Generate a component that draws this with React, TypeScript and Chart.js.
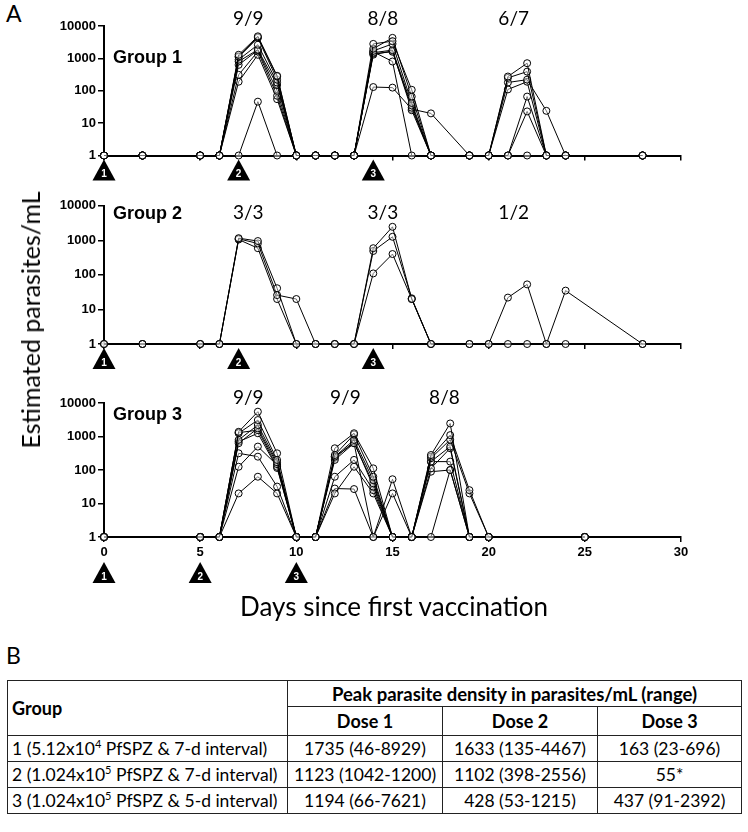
import React, { useEffect, useRef } from "react";
import { Chart, registerables } from "chart.js";
Chart.register(...registerables);

const N = null;
const yTickValues = [1, 10, 100, 1000, 10000];

// Group 1 & 2 sampling days
const g1Days = [0, 2, 5, 6, 7, 8, 9, 10, 11, 12, 13, 14, 15, 16, 17, 19, 20, 21, 22, 23, 24, 28];
const g1s1 = [1, 1, 1, 1, 1290, 4800, 290, 1, 1, 1, 1, 2800, 3400, 107, 1, 1, 1, 275, 710, 1, 1, 1];
const g1s2 = [1, 1, 1, 1, 1150, 4500, 275, 1, 1, 1, 1, 2000, 4300, 66, 1, 1, 1, 250, 390, 1, 1, 1];
const g1s3 = [1, 1, 1, 1, 1100, 4300, 220, 1, 1, 1, 1, 1700, 2800, 42, 1, 1, 1, 180, 220, 24, 1, 1];
const g1s4 = [1, 1, 1, 1, 910, 2640, 180, 1, 1, 1, 1, 1500, 1800, 35, 1, 1, 1, 110, 190, 1, 1, 1];
const g1s5 = [1, 1, 1, 1, 800, 1860, 150, 1, 1, 1, 1, 1400, 1600, 30, 1, 1, 1, 1, 66, 1, 1, 1];
const g1s6 = [1, 1, 1, 1, 630, 1800, 100, 1, 1, 1, 1, 1300, 1700, 25, 1, 1, 1, 1, 23, 1, 1, 1];
const g1s7 = [1, 1, 1, 1, 310, 1630, 70, 1, 1, 1, 1, 1600, 800, 1, 1, 1, 1, 1, 1, 1, 1, 1];
const g1s8 = [1, 1, 1, 1, 190, 1290, 55, 1, 1, 1, 1, 130, 125, 27, 20, 1, N, N, N, N, N, N];
const g1s9 = [1, 1, 1, 1, 1, 46, 1, 1, 1, 1, 1, N, N, N, N, N, N, N, N, N, N, N];
const group1 = [g1s1, g1s2, g1s3, g1s4, g1s5, g1s6, g1s7, g1s8, g1s9];

const g2Days = [0, 2, 5, 6, 7, 8, 9, 10, 11, 12, 13, 14, 15, 16, 17, 19, 20, 21, 22, 23, 24, 28];
const g2s1 = [1, 1, 1, 1, 1150, 950, 41, 1, 1, 1, 1, 590, 2450, 20, 1, 1, 1, 22, 53, 1, 35, 1];
const g2s2 = [1, 1, 1, 1, 1100, 810, 26, 20, 1, 1, 1, 490, 1260, 21, 1, 1, 1, 1, 1, 1, 1, 1];
const g2s3 = [1, 1, 1, 1, 1050, 590, 20, 1, 1, 1, 1, 110, 400, 20, 1, N, N, N, N, N, N, N];
const group2 = [g2s1, g2s2, g2s3];

const g3Days = [0, 5, 6, 7, 8, 9, 10, 11, 12, 13, 14, 15, 16, 17, 18, 19, 20, 25];
const g3s1 = [1, 1, 1, 1380, 5500, 315, 1, 1, 445, 1250, 112, 1, 1, 280, 2450, 1, 1, 1];
const g3s2 = [1, 1, 1, 1250, 3100, 200, 1, 1, 280, 1150, 63, 1, 1, 250, 1100, 25, 1, 1];
const g3s3 = [1, 1, 1, 790, 2200, 170, 1, 1, 250, 790, 50, 1, 1, 225, 800, 20, 1, 1];
const g3s4 = [1, 1, 1, 630, 1750, 150, 1, 1, 200, 630, 40, 1, 1, 178, 500, 1, 1, 1];
const g3s5 = [1, 1, 1, 1300, 1550, 125, 1, 1, 230, 700, 32, 1, 1, 112, 445, 1, 1, 1];
const g3s6 = [1, 1, 1, 700, 1250, 115, 1, 1, 63, 200, 25, 1, 1, 178, 178, 1, 1, 1];
const g3s7 = [1, 1, 1, 315, 250, 32, 1, 1, 20, 125, 20, 1, 1, 89, 100, 1, 1, 1];
const g3s8 = [1, 1, 1, 125, 500, 140, 1, 1, 28, 27, 1, 53, 1, 1, 100, 1, 1, 1];
const g3s9 = [1, 1, 1, 20, 63, 20, 1, 1, 250, 630, 1, 20, 1, N, N, N, N, N];
const group3 = [g3s1, g3s2, g3s3, g3s4, g3s5, g3s6, g3s7, g3s8, g3s9];

const g1Counts = ["9/9", "8/8", "6/7"];
const g2Counts = ["3/3", "3/3", "1/2"];
const g3Counts = ["9/9", "9/9", "8/8"];
const g12CountDays = [7.5, 14.5, 21.3];
const g3CountDays = [7.5, 12.55, 17.7];
const g12VaccDays = [0, 7, 14];
const g3VaccDays = [0, 5, 10];
const vaccLabels = ["1", "2", "3"];

const tableHeader = ["Dose 1", "Dose 2", "Dose 3"];
const tableGroups = [
  ["1 (5.12x10", "4", " PfSPZ & 7-d interval)"],
  ["2 (1.024x10", "5", " PfSPZ & 7-d interval)"],
  ["3 (1.024x10", "5", " PfSPZ & 5-d interval)"],
];
const tableValues = [
  ["1735 (46-8929)", "1633 (135-4467)", "163 (23-696)"],
  ["1123 (1042-1200)", "1102 (398-2556)", "55*"],
  ["1194 (66-7621)", "428 (53-1215)", "437 (91-2392)"],
];

const annotPlugin = {
  id: "annot",
  afterDraw(chart: any, _args: any, opts: any) {
    const { ctx, chartArea } = chart;
    const xs = chart.scales.x;
    ctx.save();
    ctx.fillStyle = "#000";
    ctx.font = "19px Lato";
    ctx.textAlign = "center";
    ctx.textBaseline = "middle";
    opts.counts.forEach((t: string, i: number) => {
      ctx.fillText(t, xs.getPixelForValue(opts.countDays[i]), chartArea.top + opts.countDy);
    });
    ctx.font = 'bold 18px "Liberation Sans"';
    ctx.textAlign = "left";
    ctx.textBaseline = "alphabetic";
    ctx.fillText(opts.group, chartArea.left + 9, chartArea.top + opts.groupDy);
    opts.vacc.forEach((d: number, i: number) => {
      const px = xs.getPixelForValue(d);
      const top = chartArea.bottom + opts.triDy;
      ctx.beginPath();
      ctx.moveTo(px, top);
      ctx.lineTo(px + 11.5, top + 21);
      ctx.lineTo(px - 11.5, top + 21);
      ctx.closePath();
      ctx.fillStyle = "#000";
      ctx.fill();
      ctx.fillStyle = "#fff";
      ctx.font = "bold 10px 'Liberation Sans'";
      ctx.textAlign = "center";
      ctx.textBaseline = "middle";
      ctx.fillText(vaccLabels[i], px, top + 15);
    });
    ctx.restore();
  },
};

function makeConfig(days: number[], series: (number | null)[][], p: any) {
  return {
    type: "line",
    data: {
      datasets: series.map((s) => ({
        data: days.map((d, i) => ({ x: d, y: s[i] })).filter((pt) => pt.y !== null),
        borderColor: "#000",
        borderWidth: 1,
        pointRadius: 3.5,
        pointBorderWidth: 1,
        pointBorderColor: "#000",
        pointBackgroundColor: "rgba(255,255,255,0.45)",
        tension: 0,
        clip: false,
      })),
    },
    options: {
      animation: false,
      responsive: false,
      maintainAspectRatio: false,
      layout: { padding: { top: p.padTop, bottom: p.padBottom, left: 0, right: 67 } },
      plugins: {
        legend: { display: false },
        tooltip: { enabled: false },
        annot: p.annot,
      },
      scales: {
        x: {
          type: "linear",
          min: 0,
          max: 30,
          ticks: {
            stepSize: 5,
            display: p.showX,
            color: "#000",
            padding: 3,
            font: { family: "Liberation Sans", size: 13, weight: "bold" },
          },
          grid: { drawOnChartArea: false, drawTicks: true, tickLength: 5, color: "#000", lineWidth: 1.5 },
          border: { color: "#000", width: 2 },
          afterFit: (a: any) => {
            a.height = p.xHeight;
          },
        },
        y: {
          type: "logarithmic",
          min: 1,
          max: 10000,
          afterBuildTicks: (a: any) => {
            a.ticks = yTickValues.map((v) => ({ value: v }));
          },
          ticks: {
            color: "#000",
            padding: 2,
            callback: (v: any) => String(v),
            font: { family: "Liberation Sans", size: 13, weight: "bold" },
          },
          grid: { drawOnChartArea: false, drawTicks: true, tickLength: 6, color: "#000", lineWidth: 1.5 },
          border: { color: "#000", width: 2 },
          afterFit: (a: any) => {
            a.width = 104;
          },
        },
      },
    },
    plugins: [annotPlugin],
  };
}

function Panel(props: { top: number; height: number; cfg: any }) {
  const ref = useRef<HTMLCanvasElement>(null);
  useEffect(() => {
    const c = new Chart(ref.current as HTMLCanvasElement, props.cfg);
    return () => c.destroy();
  }, []);
  return (
    <canvas
      ref={ref}
      width={748}
      height={props.height}
      style={{ position: "absolute", left: 0, top: props.top, width: 748, height: props.height }}
    />
  );
}

const cfg1 = makeConfig(g1Days, group1, {
  padTop: 26,
  padBottom: 28.5,
  xHeight: 6,
  showX: false,
  annot: { counts: g1Counts, countDays: g12CountDays, countDy: -7, group: "Group 1", groupDy: 37, vacc: g12VaccDays, triDy: 4 },
});
const cfg2 = makeConfig(g2Days, group2, {
  padTop: 15.7,
  padBottom: 20,
  xHeight: 6,
  showX: false,
  annot: { counts: g2Counts, countDays: g12CountDays, countDy: 7.3, group: "Group 2", groupDy: 13.5, vacc: g12VaccDays, triDy: 4 },
});
const cfg3 = makeConfig(g3Days, group3, {
  padTop: 33,
  padBottom: 39,
  xHeight: 24,
  showX: true,
  annot: { counts: g3Counts, countDays: g3CountDays, countDy: -5, group: "Group 3", groupDy: 17, vacc: g3VaccDays, triDy: 25 },
});

const cell: React.CSSProperties = { border: "1.5px solid #222", padding: "0 4px", whiteSpace: "nowrap", lineHeight: "20px" };

export default function App() {
  return (
    <div style={{ position: "absolute", left: 0, top: 0, width: 748, height: 832, background: "#fff", fontFamily: "Lato", color: "#000", overflow: "hidden" }}>
      <div style={{ position: "absolute", left: 6, top: 1, fontSize: 23, lineHeight: "24px" }}>A</div>
      <Panel top={0} height={190} cfg={cfg1} />
      <Panel top={190} height={180} cfg={cfg2} />
      <Panel top={370} height={230} cfg={cfg3} />
      <div
        style={{
          position: "absolute",
          left: 30,
          top: 320,
          transform: "translate(-50%,-50%) rotate(-90deg)",
          fontSize: 25,
          whiteSpace: "nowrap",
        }}
      >
        Estimated parasites/mL
      </div>
      <div style={{ position: "absolute", left: 0, width: 788, top: 591, textAlign: "center", fontSize: 26, lineHeight: "30px" }}>
        Days since first vaccination
      </div>
      <div style={{ position: "absolute", left: 6, top: 643, fontSize: 23, lineHeight: "24px" }}>B</div>
      <table
        style={{
          position: "absolute",
          left: 7,
          top: 680,
          width: 734,
          borderCollapse: "collapse",
          fontSize: 17.5,
          tableLayout: "fixed",
        }}
      >
        <colgroup>
          <col style={{ width: 280 }} />
          <col style={{ width: 155 }} />
          <col style={{ width: 155 }} />
          <col style={{ width: 144 }} />
        </colgroup>
        <tbody>
          <tr style={{ height: 26 }}>
            <td rowSpan={2} style={{ ...cell, fontWeight: "bold", textAlign: "left", fontSize: 18 }}>Group</td>
            <td colSpan={3} style={{ ...cell, fontWeight: "bold", textAlign: "center", fontSize: 18.5 }}>
              Peak parasite density in parasites/mL (range)
            </td>
          </tr>
          <tr style={{ height: 29 }}>
            {tableHeader.map((h) => (
              <td key={h} style={{ ...cell, fontWeight: "bold", textAlign: "center", fontSize: 18 }}>{h}</td>
            ))}
          </tr>
          {tableGroups.map((g, i) => (
            <tr key={i} style={{ height: 26 }}>
              <td style={{ ...cell, textAlign: "left" }}>
                {g[0]}
                <sup style={{ fontSize: 11, lineHeight: 0 }}>{g[1]}</sup>
                {g[2]}
              </td>
              {tableValues[i].map((v, j) => (
                <td key={j} style={{ ...cell, textAlign: "center" }}>{v}</td>
              ))}
            </tr>
          ))}
        </tbody>
      </table>
    </div>
  );
}
